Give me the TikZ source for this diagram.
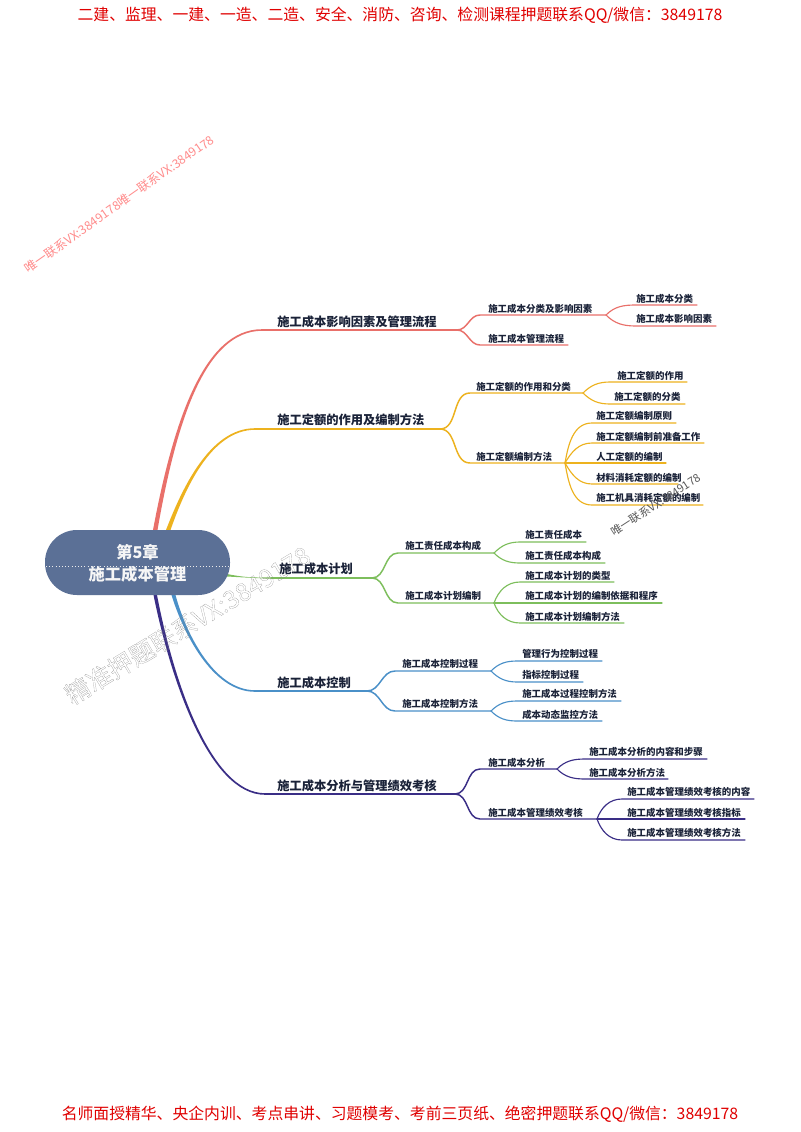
\documentclass[tikz,border=0pt]{standalone}
\usepackage{fontspec}
\setmainfont{Noto Sans CJK SC}
\definecolor{cred}{HTML}{E9706A}
\definecolor{cgold}{HTML}{EDB21E}
\definecolor{cgreen}{HTML}{7DBE5C}
\definecolor{cblue}{HTML}{4A90C8}
\definecolor{cpurple}{HTML}{3A2E86}
\definecolor{cink}{HTML}{1A2238}
\tikzset{
  lone/.style={anchor=west,inner sep=0pt,text=cink,font=\fontsize{9.2}{11}\selectfont\bfseries},
  ltwo/.style={anchor=west,inner sep=0pt,text=cink,font=\fontsize{7.1}{9}\selectfont\bfseries},
  edgeone/.style={line width=1.1pt,line cap=round},
  edgetwo/.style={line width=0.85pt,line cap=round},
  banner/.style={inner sep=0pt,text=red!88!black,font=\fontsize{11.87}{14}\selectfont},
}
\newcommand\topic[8]{\node[#2] (#1) at (#3,#4) {#8};
  \coordinate (#1-a) at (#5,#6); \coordinate (#1-b) at (#7,#6);}
\newcommand\linkto[4][0]{\draw[#4] (#2-b) to[out=#1,in=180] (#3-a) -- (#3-b);}
% colour, left start, right start, c1, c2, child : tapered trunk (k offsets widen it)
\newcommand\trunk[6]{%
  \fill[#1] (#2) .. controls ($(#4)+(-1.4,-0.3)$) and ($(#5)+(-0.6,-0.9)$) .. ($(#6-a)+(0,-0.8)$) -- ($(#6-a)+(0,0.8)$) .. controls ($(#5)+(0.6,0.9)$) and ($(#4)+(1.4,0.3)$) .. (#3) -- cycle;
  \draw[#1,line width=1.1pt] (#6-a) -- (#6-b);}
\newcommand\trunkdown[6]{%
  \fill[#1] (#3) .. controls ($(#4)+(1.2,-0.3)$) and ($(#5)+(0.6,-0.9)$) .. ($(#6-a)+(0,-0.8)$) -- ($(#6-a)+(0,0.8)$) .. controls ($(#5)+(-0.6,0.9)$) and ($(#4)+(-1.2,0.3)$) .. (#2) -- cycle;
  \draw[#1,line width=1.1pt] (#6-a) -- (#6-b);}
\usetikzlibrary{calc}
\begin{document}
\begin{tikzpicture}[x=0.75pt,y=-0.75pt]
\useasboundingbox (0,0) rectangle (800,1132);
\fill[white] (0,0) rectangle (800,1132);
% banners
\node[banner] (top) at (400,15) {二建、监理、一建、一造、二造、安全、消防、咨询、检测课程押题联系QQ/微信：3849178};
\node[banner] (bottom) at (400,1114) {名师面授精华、央企内训、考点串讲、习题模考、考前三页纸、绝密押题联系QQ/微信：3849178};
% level one
\topic{a}{lone}{277}{322}{262}{330}{457}{施工成本影响因素及管理流程}
\topic{b}{lone}{277}{420}{255}{429}{440}{施工定额的作用及编制方法}
\topic{c}{lone}{279}{569}{272}{578}{372}{施工成本计划}
\topic{d}{lone}{277}{683}{255}{691}{367}{施工成本控制}
\topic{e}{lone}{277}{786}{265}{794}{455}{施工成本分析与管理绩效考核}
% red
\topic{a1}{ltwo}{488}{309}{480}{315}{606}{施工成本分类及影响因素}
\topic{a2}{ltwo}{488}{339}{480}{345}{568}{施工成本管理流程}
\topic{a11}{ltwo}{636}{299}{636}{305}{697}{施工成本分类}
\topic{a12}{ltwo}{636}{319}{636}{326}{716}{施工成本影响因素}
% gold
\topic{b1}{ltwo}{476}{387}{470}{393}{583}{施工定额的作用和分类}
\topic{b2}{ltwo}{476}{457}{470}{463}{565}{施工定额编制方法}
\topic{b11}{ltwo}{617}{376}{610}{382}{687}{施工定额的作用}
\topic{b12}{ltwo}{614}{397}{610}{404}{685}{施工定额的分类}
\topic{b21}{ltwo}{596}{416}{592}{423}{676}{施工定额编制原则}
\topic{b22}{ltwo}{596}{437}{592}{443}{704}{施工定额编制前准备工作}
\topic{b23}{ltwo}{596}{457}{592}{463}{666}{人工定额的编制}
\topic{b24}{ltwo}{596}{478}{592}{484}{678}{材料消耗定额的编制}
\topic{b25}{ltwo}{596}{498}{592}{505}{703}{施工机具消耗定额的编制}
% green
\topic{c1}{ltwo}{405}{546}{398}{553}{494}{施工责任成本构成}
\topic{c2}{ltwo}{405}{596}{398}{603}{494}{施工成本计划编制}
\topic{c11}{ltwo}{525}{535}{520}{542}{586}{施工责任成本}
\topic{c12}{ltwo}{525}{556}{520}{563}{605}{施工责任成本构成}
\topic{c21}{ltwo}{525}{576}{520}{582}{614}{施工成本计划的类型}
\topic{c22}{ltwo}{525}{596}{520}{603}{662}{施工成本计划的编制依据和程序}
\topic{c23}{ltwo}{525}{617}{520}{623}{624}{施工成本计划编制方法}
% blue
\topic{d1}{ltwo}{402}{664}{395}{671}{491}{施工成本控制过程}
\topic{d2}{ltwo}{402}{704}{395}{711}{491}{施工成本控制方法}
\topic{d11}{ltwo}{522}{654}{517}{661}{602}{管理行为控制过程}
\topic{d12}{ltwo}{522}{675}{517}{682}{583}{指标控制过程}
\topic{d21}{ltwo}{522}{694}{517}{701}{621}{施工成本过程控制方法}
\topic{d22}{ltwo}{522}{715}{517}{721}{602}{成本动态监控方法}
% purple
\topic{e1}{ltwo}{488}{763}{480}{769}{557}{施工成本分析}
\topic{e2}{ltwo}{488}{813}{480}{819}{597}{施工成本管理绩效考核}
\topic{e11}{ltwo}{589}{752}{585}{759}{707}{施工成本分析的内容和步骤}
\topic{e12}{ltwo}{589}{773}{585}{779}{668}{施工成本分析方法}
\topic{e21}{ltwo}{627}{792}{622}{799}{754}{施工成本管理绩效考核的内容}
\topic{e22}{ltwo}{627}{813}{622}{819}{745}{施工成本管理绩效考核指标}
\topic{e23}{ltwo}{627}{833}{622}{840}{745}{施工成本管理绩效考核方法}
% trunks
\coordinate (s1) at (153,530); \coordinate (s2) at (157.5,530);
\coordinate (k1) at (175,420); \coordinate (k2) at (205,330);
\trunk{cred}{s1}{s2}{k1}{k2}{a}
\coordinate (s1) at (166,530); \coordinate (s2) at (170.5,530);
\coordinate (k1) at (183,490); \coordinate (k2) at (210,429);
\trunk{cgold}{s1}{s2}{k1}{k2}{b}
\coordinate (s1) at (227,574); \coordinate (s2) at (227,576.5);
\coordinate (k1) at (245,577.5); \coordinate (k2) at (255,578);
\fill[cgreen] (s1) .. controls (k1) and (k2) .. ($(c-a)+(0,-0.8)$) -- ($(c-a)+(0,0.8)$) .. controls (k2) and (k1) .. (s2) -- cycle;
\draw[cgreen,line width=1.1pt] (c-a) -- (c-b);
\coordinate (s1) at (171.5,595); \coordinate (s2) at (175.5,595);
\coordinate (k1) at (183.5,630); \coordinate (k2) at (212,691);
\trunkdown{cblue}{s1}{s2}{k1}{k2}{d}
\coordinate (s1) at (153.5,595); \coordinate (s2) at (157,595);
\coordinate (k1) at (172,680); \coordinate (k2) at (210,794);
\trunkdown{cpurple}{s1}{s2}{k1}{k2}{e}
% forks
\linkto{a}{a1}{cred,edgeone} \linkto{a}{a2}{cred,edgeone}
\linkto[45]{a1}{a11}{cred,edgetwo} \linkto[-45]{a1}{a12}{cred,edgetwo}
\linkto{b}{b1}{cgold,edgeone} \linkto{b}{b2}{cgold,edgeone}
\linkto[45]{b1}{b11}{cgold,edgetwo} \linkto[-45]{b1}{b12}{cgold,edgetwo}
\linkto[80]{b2}{b21}{cgold,edgetwo} \linkto[60]{b2}{b22}{cgold,edgetwo}
\linkto{b2}{b23}{cgold,edgetwo}
\linkto[-60]{b2}{b24}{cgold,edgetwo} \linkto[-80]{b2}{b25}{cgold,edgetwo}
\linkto{c}{c1}{cgreen,edgeone} \linkto{c}{c2}{cgreen,edgeone}
\linkto[45]{c1}{c11}{cgreen,edgetwo} \linkto[-45]{c1}{c12}{cgreen,edgetwo}
\linkto[70]{c2}{c21}{cgreen,edgetwo} \linkto{c2}{c22}{cgreen,edgetwo} \linkto[-70]{c2}{c23}{cgreen,edgetwo}
\linkto{d}{d1}{cblue,edgeone} \linkto{d}{d2}{cblue,edgeone}
\linkto[45]{d1}{d11}{cblue,edgetwo} \linkto[-45]{d1}{d12}{cblue,edgetwo}
\linkto[45]{d2}{d21}{cblue,edgetwo} \linkto[-45]{d2}{d22}{cblue,edgetwo}
\linkto{e}{e1}{cpurple,edgeone} \linkto{e}{e2}{cpurple,edgeone}
\linkto[45]{e1}{e11}{cpurple,edgetwo} \linkto[-45]{e1}{e12}{cpurple,edgetwo}
\linkto[70]{e2}{e21}{cpurple,edgetwo} \linkto{e2}{e22}{cpurple,edgetwo} \linkto[-70]{e2}{e23}{cpurple,edgetwo}
% central
\fill[fill={rgb,255:red,91;green,112;blue,150},rounded corners=24pt] (45,530) rectangle (230,595);
\coordinate (mL) at (46,566.5); \coordinate (mR) at (229,566.5);
\draw[white!85!gray,dotted,line width=0.4pt] (mL) -- (mR);
\node[inner sep=0pt,text=white!93!gray,font=\fontsize{12.2}{14}\selectfont\bfseries] (root1) at (137.5,552) {第5章};
\node[inner sep=0pt,text=white!93!gray,font=\fontsize{12.2}{14}\selectfont\bfseries] (root2) at (137.5,574) {施工成本管理};
% watermarks
\node[inner sep=0pt,rotate=35,text=red!45!white,font=\fontsize{9.2}{11}\selectfont] (w1) at (119,204) {唯一联系VX:3849178唯一联系VX:3849178};
\node[inner sep=0pt,rotate=31,text=black!50,font=\fontsize{18.6}{22}\selectfont] (w2) at (187.5,625) {\special{pdf:code q 1 Tr 0.08 w}精准押题联系VX:3849178\special{pdf:code Q}};
\node[inner sep=0pt,rotate=33,text=black!65,font=\fontsize{8.4}{10}\selectfont] (w3) at (655.5,505) {唯一联系VX:3849178};
\end{tikzpicture}
\end{document}
